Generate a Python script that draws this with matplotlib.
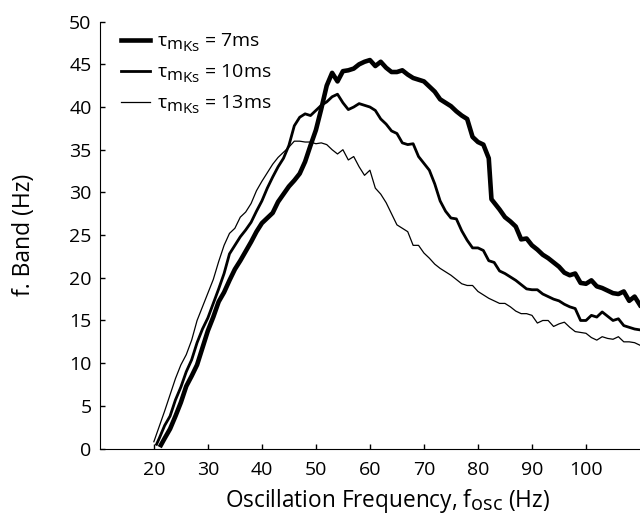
import matplotlib
matplotlib.use("Agg")
import matplotlib.pyplot as plt
import matplotlib._mathtext as mathtext_internal

plt.rcParams['font.family'] = ['Open Sans', 'DejaVu Sans']
plt.rcParams['mathtext.fontset'] = 'custom'
plt.rcParams['mathtext.rm'] = 'Open Sans'
plt.rcParams['mathtext.it'] = 'Open Sans'
plt.rcParams['mathtext.bf'] = 'Open Sans:bold'
# subscripts in the original are barely shrunk
mathtext_internal.SHRINK_FACTOR = 0.88

# tau_mKs = 7 ms (thick)
f_7 = [21.3, 22, 23, 24, 25, 26, 27, 28, 29, 30, 31, 32, 33, 34, 35, 36, 37, 38, 39, 40,
       41, 42, 43, 44, 45, 46, 47, 48, 49, 50, 51, 52, 53, 54, 55, 56, 57, 58, 59, 60,
       61, 62, 63, 64, 65, 66, 67, 68, 69, 70, 71, 72, 73, 74, 75, 76, 77, 78, 79, 80,
       81, 82, 82.5, 83, 84, 85, 86, 87, 88, 89, 90, 91, 92, 93, 94, 95, 96, 97, 98, 99, 100,
       101, 102, 103, 104, 105, 106, 107, 108, 109, 110]
band_7 = [0.4, 1.2, 2.3, 3.8, 5.4, 7.3, 8.5, 9.8, 11.8, 13.8, 15.4, 17.2, 18.3, 19.7, 21.0, 22.0, 23.1, 24.2, 25.4, 26.4,
          27.0, 27.6, 28.9, 29.8, 30.7, 31.4, 32.2, 33.6, 35.5, 37.3, 39.8, 42.5, 44.0, 43.0, 44.2, 44.3, 44.5, 45.0, 45.3, 45.5,
          44.8, 45.3, 44.6, 44.1, 44.1, 44.3, 43.8, 43.4, 43.2, 43.0, 42.4, 41.8, 40.9, 40.5, 40.1, 39.5, 39.0, 38.6, 36.5, 35.9,
          35.6, 34.0, 29.2, 28.8, 28.0, 27.1, 26.6, 26.0, 24.5, 24.6, 23.8, 23.3, 22.7, 22.3, 21.8, 21.3, 20.6, 20.3, 20.5, 19.4, 19.3,
          19.7, 19.0, 18.8, 18.5, 18.2, 18.1, 18.4, 17.3, 17.8, 16.8]

# tau_mKs = 10 ms (medium)
f_10 = [20.5, 21, 22, 23, 24, 25, 26, 27, 28, 29, 30, 31, 32, 33, 34, 35, 36, 37, 38, 39, 40,
        41, 42, 43, 44, 45, 46, 47, 48, 49, 50, 51, 52, 53, 54, 55, 56, 57, 58, 59, 60,
        61, 62, 63, 64, 65, 66, 67, 68, 69, 70, 71, 72, 73, 74, 75, 76, 77, 78, 79, 80,
        81, 82, 83, 84, 85, 86, 87, 88, 89, 90, 91, 92, 93, 94, 95, 96, 97, 98, 99, 100,
        101, 102, 103, 104, 105, 106, 107, 108, 109, 110]
band_10 = [0.5, 1.2, 2.7, 3.8, 5.7, 7.2, 9.0, 10.4, 12.4, 14.0, 15.3, 17.0, 18.7, 20.5, 22.8, 23.8, 24.8, 25.6, 26.5, 27.8, 29.0,
           30.5, 31.8, 33.0, 34.0, 35.5, 37.8, 38.8, 39.2, 39.0, 39.6, 40.2, 40.6, 41.2, 41.5, 40.5, 39.7, 40.0, 40.4, 40.2, 40.0,
           39.6, 38.6, 38.0, 37.2, 36.9, 35.8, 35.6, 35.7, 34.2, 33.4, 32.6, 31.0, 29.0, 27.8, 27.0, 26.9, 25.5, 24.4, 23.5, 23.5,
           23.2, 22.0, 21.8, 20.8, 20.5, 20.1, 19.7, 19.2, 18.7, 18.6, 18.6, 18.1, 17.8, 17.5, 17.3, 16.9, 16.6, 16.4, 15.0, 15.0,
           15.6, 15.4, 16.0, 15.5, 15.0, 15.2, 14.4, 14.2, 14.0, 13.9]

# tau_mKs = 13 ms (thin)
f_13 = [20, 21, 22, 23, 24, 25, 26, 27, 28, 29, 30, 31, 32, 33, 34, 35, 36, 37, 38, 39, 40,
        41, 42, 43, 44, 45, 46, 47, 48, 49, 50, 51, 52, 53, 54, 55, 56, 57, 58, 59, 60,
        61, 62, 63, 64, 65, 66, 67, 68, 69, 70, 71, 72, 73, 74, 75, 76, 77, 78, 79, 80,
        81, 82, 83, 84, 85, 86, 87, 88, 89, 90, 91, 92, 93, 94, 95, 96, 97, 98, 99, 100,
        101, 102, 103, 104, 105, 106, 107, 108, 109, 110]
band_13 = [0.8, 2.6, 4.4, 6.3, 8.2, 9.8, 11.0, 12.7, 15.0, 16.6, 18.2, 19.8, 21.9, 23.8, 25.2, 25.8, 27.1, 27.7, 28.7, 30.2, 31.3,
           32.3, 33.3, 34.1, 34.7, 35.3, 36.0, 36.0, 35.9, 35.9, 35.7, 35.8, 35.6, 35.0, 34.5, 35.0, 33.8, 34.2, 33.0, 32.0, 32.6,
           30.5, 29.8, 28.8, 27.5, 26.2, 25.8, 25.4, 23.8, 23.8, 22.9, 22.3, 21.6, 21.1, 20.7, 20.3, 19.8, 19.3, 19.1, 19.1, 18.4,
           18.0, 17.6, 17.3, 17.0, 17.0, 16.6, 16.1, 15.8, 15.8, 15.6, 14.7, 15.0, 15.0, 14.3, 14.6, 14.8, 14.2, 13.7, 13.6, 13.5,
           13.0, 12.7, 13.1, 12.9, 12.8, 13.1, 12.5, 12.5, 12.4, 12.1]

labels = [r'$\tau_{m_{Ks}}$ = 7ms', r'$\tau_{m_{Ks}}$ = 10ms', r'$\tau_{m_{Ks}}$ = 13ms']

fig = plt.figure(figsize=(6.4, 5.15), dpi=100)
ax = fig.add_axes([0.156, 0.129, 0.844, 0.829])

ax.plot(f_7, band_7, color='black', lw=3.3, label=labels[0])
ax.plot(f_10, band_10, color='black', lw=2.0, label=labels[1])
ax.plot(f_13, band_13, color='black', lw=0.9, label=labels[2])

ax.set_xlim(10, 110)
ax.set_ylim(0, 50)
ax.set_xticks(range(20, 101, 10))
ax.set_yticks(range(0, 51, 5))
ax.spines['top'].set_visible(False)
ax.spines['right'].set_visible(False)
ax.tick_params(direction='in', length=3.6, width=1, labelsize=14)
ax.tick_params(axis='x', pad=9)
ax.tick_params(axis='y', pad=6)

ax.set_xlabel(r'Oscillation Frequency, $\mathrm{f_{osc}}$ (Hz)', fontsize=16.3)
ax.xaxis.set_label_coords(0.532, -0.09)
ax.set_ylabel('f. Band (Hz)', fontsize=16.5)
ax.yaxis.set_label_coords(-0.118, 0.5)

ax.legend(loc='upper left', bbox_to_anchor=(0.011, 1.013), frameon=False, fontsize=14,
          handlelength=1.45, handletextpad=0.4, labelspacing=0.43, borderaxespad=0.4)

fig.savefig('out.png', dpi=100)
